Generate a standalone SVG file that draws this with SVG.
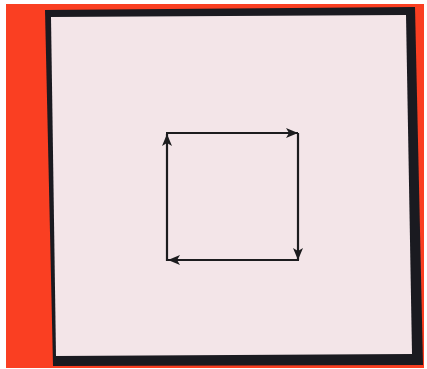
<svg xmlns="http://www.w3.org/2000/svg" width="427" height="369" viewBox="0 0 427 369">
  <defs>
    <marker id="ah" viewBox="0 0 12 10" refX="12" refY="5" markerWidth="12" markerHeight="10" markerUnits="userSpaceOnUse" orient="auto">
      <path d="M0,0 L12,5 L0,10 L3,5 Z" fill="#1c1c1e"/>
    </marker>
    <style>
      .arr { stroke: #1c1c1e; stroke-width: 2.2; fill: none; marker-end: url(#ah); }
    </style>
  </defs>
  <rect x="0" y="0" width="427" height="369" fill="#ffffff"/>
  <rect x="6" y="4" width="418" height="364" fill="#fa3f22"/>
  <g id="frame">
    <polygon points="45,10 415,7 423,365 53,366" fill="#1a1a20"/>
    <polygon points="51,17 406,15 412,354 56,356" fill="#f3e5e8"/>
  </g>
  <g id="connectors">
    <line class="arr" x1="166" y1="133" x2="298" y2="133"/>
    <line class="arr" x1="298" y1="133" x2="298" y2="260"/>
    <line class="arr" x1="299" y1="260" x2="168" y2="260"/>
    <line class="arr" x1="167" y1="261" x2="167" y2="134"/>
  </g>
</svg>
